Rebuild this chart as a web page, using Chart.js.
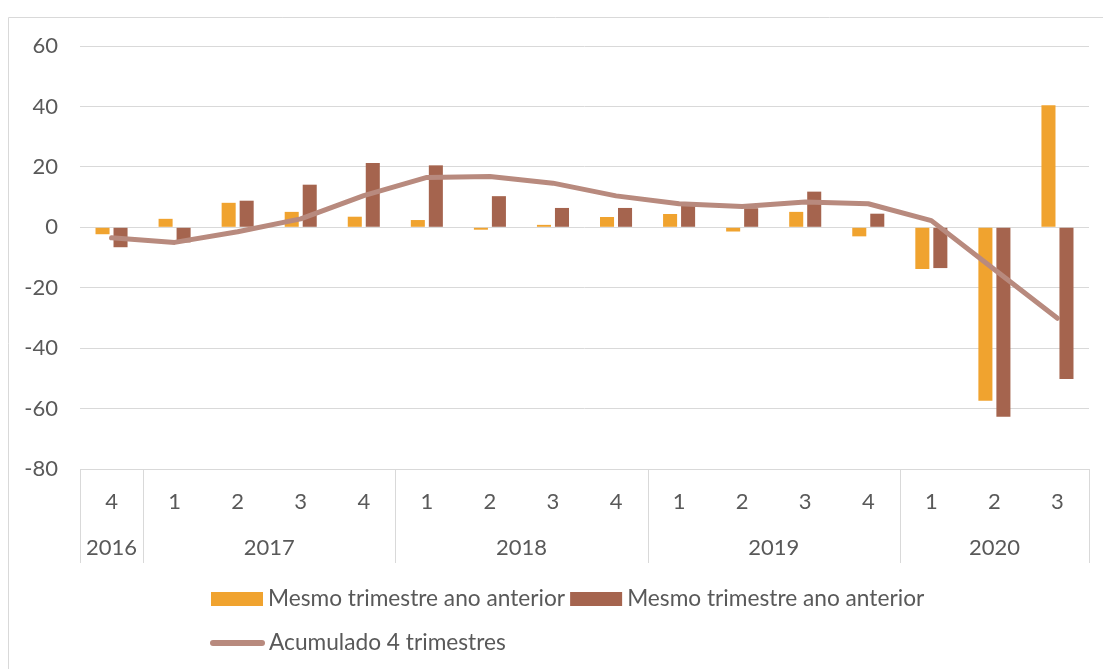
<!DOCTYPE html>
<html>
<head>
<meta charset="utf-8">
<script src="https://cdn.jsdelivr.net/npm/chart.js@4/dist/chart.umd.min.js"></script>
<style>
  body { margin: 0; background: #fff; }
  #grafico { display: block; }
</style>
</head>
<body>
<canvas id="grafico" width="1103" height="669"></canvas>
<script>
// ===== DADOS =====
const trimestres = ['4', '1', '2', '3', '4', '1', '2', '3', '4', '1', '2', '3', '4', '1', '2', '3'];
const anos = ['2016', '2017', '2018', '2019', '2020'];
const trimestresPorAno = [1, 4, 4, 4, 3];

const mesmoTrimestreA = [-2.3, 2.8, 8.1, 5.1, 3.5, 2.4, -0.8, 0.8, 3.4, 4.4, -1.4, 5.1, -3.0, -13.8, -57.4, 40.4];
const mesmoTrimestreB = [-6.6, -5.0, 8.8, 14.1, 21.3, 20.5, 10.3, 6.4, 6.4, 7.2, 6.3, 11.8, 4.5, -13.5, -62.7, -50.2];
const acumulado4 = [-3.5, -5.0, -1.5, 2.8, 10.5, 16.5, 16.8, 14.6, 10.4, 7.8, 6.9, 8.4, 7.8, 2.2, -14.0, -30.1];

const yTicks = [60, 40, 20, 0, -20, -40, -60, -80];

// ===== ESTILO =====
const FONTE = 'Lato, "Open Sans", sans-serif';
const COR_TEXTO = '#595959';
const COR_GRADE = '#d9d9d9';
const LARANJA = '#f0a32f';
const MARROM = '#a5644e';
const LINHA = '#b88a7e';

// ===== PLUGIN: anos, separadores, legenda e moldura =====
const eixoAnos = {
  id: 'eixoAnos',
  beforeDraw(chart) {
    const ctx = chart.ctx;
    ctx.save();
    ctx.strokeStyle = COR_GRADE;
    ctx.lineWidth = 1;
    ctx.beginPath();
    ctx.moveTo(8.5, 669);
    ctx.lineTo(8.5, 17.5);
    ctx.lineTo(1103, 17.5);
    ctx.stroke();
    ctx.restore();
  },
  afterDraw(chart) {
    const ctx = chart.ctx;
    const x = chart.scales.x;
    const area = chart.chartArea;
    const passo = x.getPixelForValue(1) - x.getPixelForValue(0);
    const topo = area.bottom;
    const fundo = area.bottom + 94;

    ctx.save();
    ctx.strokeStyle = COR_GRADE;
    ctx.lineWidth = 1;
    ctx.font = '22px ' + FONTE;
    ctx.fillStyle = COR_TEXTO;
    ctx.textAlign = 'center';
    ctx.textBaseline = 'middle';

    let inicio = 0;
    anos.forEach((ano, i) => {
      const n = trimestresPorAno[i];
      const xIni = x.getPixelForValue(inicio) - passo / 2;
      const xFim = x.getPixelForValue(inicio + n - 1) + passo / 2;
      [xIni, xFim].forEach(px => {
        const p = Math.round(px) + 0.5;
        ctx.beginPath();
        ctx.moveTo(p, topo);
        ctx.lineTo(p, fundo);
        ctx.stroke();
      });
      ctx.fillText(ano, (xIni + xFim) / 2, area.bottom + 79);
      inicio += n;
    });

    // Legenda
    ctx.font = '22.7px ' + FONTE;
    ctx.textAlign = 'left';
    const ds = chart.data.datasets;
    let lx = 211;
    const y1 = 599;
    [0, 1].forEach(i => {
      ctx.fillStyle = ds[i].backgroundColor;
      ctx.fillRect(lx, y1 - 7, 52, 14);
      ctx.fillStyle = COR_TEXTO;
      ctx.fillText(ds[i].label, lx + 57, y1);
      lx += 57 + ctx.measureText(ds[i].label).width + 5;
    });
    const y2 = 643;
    ctx.strokeStyle = ds[2].borderColor;
    ctx.lineWidth = 6;
    ctx.lineCap = 'round';
    ctx.beginPath();
    ctx.moveTo(213, y2);
    ctx.lineTo(262, y2);
    ctx.stroke();
    ctx.fillStyle = COR_TEXTO;
    ctx.fillText(ds[2].label, 269, y2);
    ctx.restore();
  }
};

// ===== GRÁFICO =====
const ctxG = document.getElementById('grafico').getContext('2d');
new Chart(ctxG, {
  type: 'bar',
  data: {
    labels: trimestres,
    datasets: [
      {
        label: 'Mesmo trimestre ano anterior',
        data: mesmoTrimestreA,
        backgroundColor: LARANJA,
        barPercentage: 0.78,
        categoryPercentage: 0.571,
        order: 1
      },
      {
        label: 'Mesmo trimestre ano anterior',
        data: mesmoTrimestreB,
        backgroundColor: MARROM,
        barPercentage: 0.78,
        categoryPercentage: 0.571,
        order: 1
      },
      {
        type: 'line',
        label: 'Acumulado 4 trimestres',
        data: acumulado4,
        borderColor: LINHA,
        backgroundColor: LINHA,
        borderWidth: 5,
        pointRadius: 0,
        tension: 0,
        borderCapStyle: 'round',
        borderJoinStyle: 'round',
        order: 0
      }
    ]
  },
  options: {
    responsive: false,
    animation: false,
    devicePixelRatio: 1,
    layout: { padding: { top: 46, left: 0, right: 14, bottom: 0 } },
    plugins: {
      legend: { display: false },
      tooltip: { enabled: false }
    },
    scales: {
      x: {
        grid: { display: false, drawTicks: false },
        border: { display: true, color: COR_GRADE },
        ticks: {
          color: COR_TEXTO,
          font: { family: FONTE, size: 22 },
          padding: 20,
          maxRotation: 0,
          autoSkip: false
        },
        afterFit: s => { s.height = 200; }
      },
      y: {
        min: -80,
        max: 60,
        grid: { color: COR_GRADE, drawTicks: false },
        border: { display: false },
        afterBuildTicks: s => { s.ticks = yTicks.map(v => ({ value: v })); },
        ticks: {
          color: COR_TEXTO,
          font: { family: FONTE, size: 22 },
          padding: 22
        },
        afterFit: s => { s.width = 80; }
      }
    }
  },
  plugins: [eixoAnos]
});
</script>
</body>
</html>
